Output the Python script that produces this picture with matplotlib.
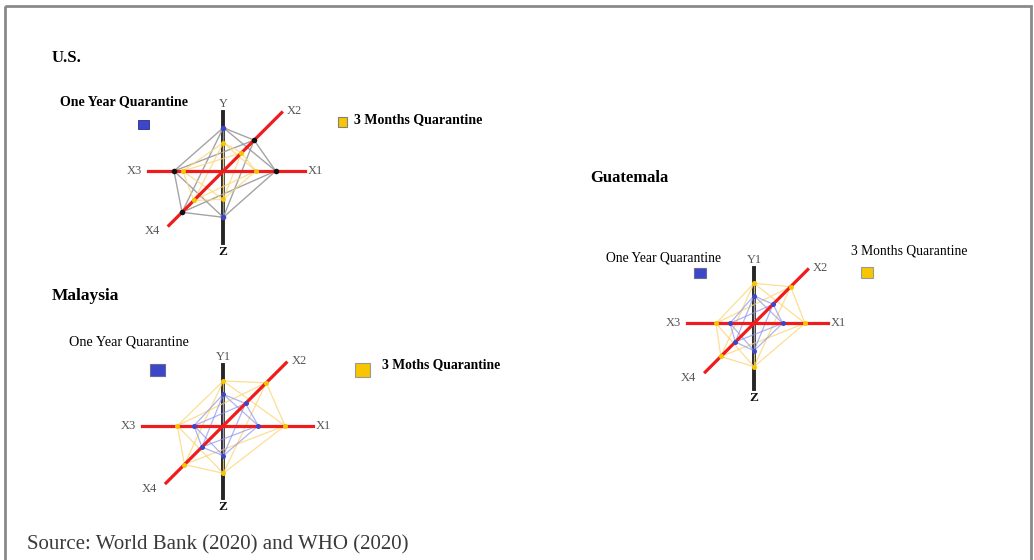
import numpy as np
import matplotlib
matplotlib.use("Agg")
import matplotlib.pyplot as plt
from matplotlib.patches import Rectangle

plt.rcParams['font.family'] = ['Liberation Serif', 'DejaVu Serif']

# axis order used everywhere: X1, X2, X3, X4, Y, Z
axis_names = ["X1", "X2", "X3", "X4", "Y", "Z"]

# distances of the points from the centre along each axis
us_one_year = [52.4, 43.6, 49.3, 58.4, 43.3, 46.3]
us_three_months = [32.4, 25.7, 40.6, 41.7, 28.3, 28.3]
my_one_year = [35.0, 31.4, 29.3, 30.2, 31.4, 30.0]
my_three_months = [61.7, 60.7, 46.0, 54.9, 44.7, 47.6]
gt_one_year = [28.7, 26.9, 24.0, 26.4, 27.6, 27.4]
gt_three_months = [51.0, 51.8, 38.0, 46.9, 40.0, 43.4]

countries = ["U.S.", "Malaysia", "Guatemala"]
y_labels = ["Y", "Y1", "Y1"]
one_year_labels = ["One Year Quarantine", "One Year Quarantine", "One Year Quarantine"]
three_month_labels = ["3 Months Quarantine", "3 Moths Quarantine", "3 Months Quarantine"]
source_text = "Source: World Bank (2020) and WHO (2020)"

# direction of each axis in screen coords (y grows downward)
d = 1 / np.sqrt(2)
dirs = np.array([[1, 0], [d, -d], [-1, 0], [-d, d], [0, -1], [0, 1]])

fig = plt.figure(figsize=(10.34, 5.6), dpi=100)
ax = fig.add_axes([0, 0, 1, 1])
ax.set_xlim(0, 1034)
ax.set_ylim(560, 0)
ax.axis("off")

# outer frame
ax.add_patch(Rectangle((4.5, 5.5), 1026, 600, fill=False, ec="#8a8a8a", lw=2))


def draw_star(cx, cy, lengths, inner, outer, inner_style, outer_style):
    c = np.array([cx, cy])
    ends = c + dirs * np.array(lengths)[:, None]
    # vertical black axis (Y / Z)
    ax.plot([ends[4][0], ends[5][0]], [ends[4][1], ends[5][1]], color="#262626", lw=2.8, zorder=2)
    # polygons: every point joined to every other one
    for vals, st in ((outer, outer_style), (inner, inner_style)):
        pts = c + dirs * np.array(vals)[:, None]
        for i in range(6):
            for j in range(i + 1, 6):
                ax.plot([pts[i][0], pts[j][0]], [pts[i][1], pts[j][1]],
                        color=st["line"], lw=st["lw"], alpha=st["alpha"], zorder=3)
    # red axes
    ax.plot([ends[0][0], ends[2][0]], [ends[0][1], ends[2][1]], color="#ee1c1c", lw=2.3, zorder=4)
    ax.plot([ends[1][0], ends[3][0]], [ends[1][1], ends[3][1]], color="#ee1c1c", lw=2.3, zorder=4)
    for vals, st in ((outer, outer_style), (inner, inner_style)):
        pts = c + dirs * np.array(vals)[:, None]
        for k in range(6):
            ax.plot(pts[k][0], pts[k][1], "o", ms=st["ms"], color=st["dots"][k], mec="none", zorder=5)
    return ends


def axis_labels(ends, ylab):
    lab = dict(color="#555555", fontsize=9)
    ax.text(ends[0][0] + 2, ends[0][1], "X1", ha="left", va="center", **lab)
    ax.text(ends[1][0] + 5, ends[1][1] - 2, "X2", ha="left", va="center", **lab)
    ax.text(ends[2][0] - 6, ends[2][1], "X3", ha="right", va="center", **lab)
    ax.text(ends[3][0] - 9, ends[3][1] + 6, "X4", ha="right", va="center", **lab)
    ax.text(ends[4][0], ends[4][1] - 8, ylab, ha="center", va="center", **lab)
    ax.text(ends[5][0], ends[5][1] + 9, "Z", ha="center", va="center",
            fontsize=9.5, fontweight="bold", color="#111111")


gray_style = dict(line="#9a9a9a", lw=1.0, alpha=0.9, ms=4,
                  dots=["#111111", "#111111", "#111111", "#111111", "#3c46c8", "#3c46c8"])
yellow_style = dict(line="#fcd77a", lw=0.9, alpha=0.8, ms=3.6, dots=["#f7c600"] * 6)
blue_style = dict(line="#8e94ea", lw=0.9, alpha=0.7, ms=3.6, dots=["#3c46c8"] * 6)

# ---- U.S. ----
ends = draw_star(223.3, 171, [82, 82.6, 75, 77, 59.3, 72], us_three_months, us_one_year,
                 yellow_style, gray_style)
axis_labels(ends, y_labels[0])
ax.text(52, 58.5, countries[0], fontsize=12, fontweight="bold", va="center")
ax.text(60, 102, one_year_labels[0], fontsize=10, fontweight="bold", va="center")
ax.add_patch(Rectangle((137.5, 120), 11, 9, fc="#3c46c8", ec="#2a2a90", lw=0.6))
ax.add_patch(Rectangle((337.5, 117), 9, 10, fc="#f7c600", ec="#808080", lw=0.8))
ax.text(354, 120, three_month_labels[0], fontsize=10, fontweight="bold", va="center")

# ---- Malaysia ----
ends = draw_star(223.3, 425.7, [90, 89, 81.6, 81, 60.7, 72.3], my_one_year, my_three_months,
                 blue_style, yellow_style)
axis_labels(ends, y_labels[1])
ax.text(52, 296, countries[1], fontsize=12.5, fontweight="bold", va="center")
ax.text(69, 342, one_year_labels[1], fontsize=10.3, va="center")
ax.add_patch(Rectangle((150, 364), 15, 12, fc="#3c46c8", ec="#6a6a9a", lw=0.8))
ax.add_patch(Rectangle((355, 363), 15, 13.5, fc="#f7c600", ec="#9a9a9a", lw=0.8))
ax.text(382, 365, three_month_labels[1], fontsize=9.8, fontweight="bold", va="center")

# ---- Guatemala ----
ends = draw_star(754, 323.3, [74.3, 76, 67.3, 69, 55, 66], gt_one_year, gt_three_months,
                 blue_style, yellow_style)
axis_labels(ends, y_labels[2])
ax.text(590, 178, countries[2], fontsize=12, fontweight="bold", va="center")
ax.text(606, 258, one_year_labels[2], fontsize=9.8, va="center")
ax.add_patch(Rectangle((694.3, 267.7), 11.7, 10.6, fc="#3c46c8", ec="#6a6a9a", lw=0.8))
ax.text(851, 251, three_month_labels[2], fontsize=9.8, va="center")
ax.add_patch(Rectangle((861, 266.7), 12.3, 11.6, fc="#f7c600", ec="#9a9a9a", lw=0.8))

ax.text(27, 545, source_text, fontsize=15, color="#3a3a3a", va="center")

fig.savefig("out.png", dpi=100)
